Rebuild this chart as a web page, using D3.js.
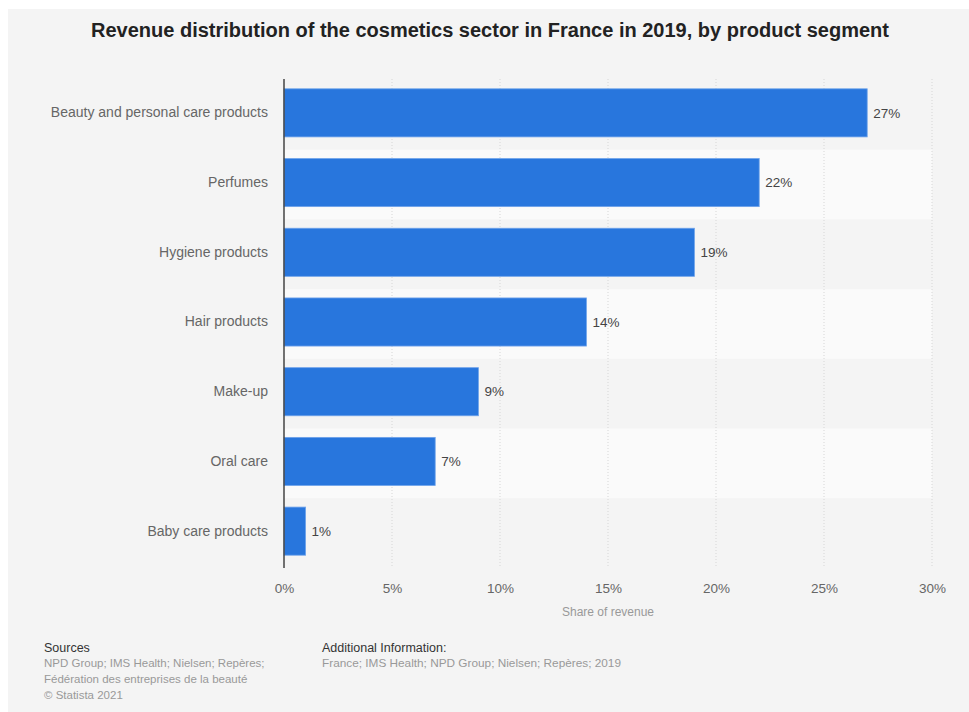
<!DOCTYPE html>
<html lang="en">
<head>
    <meta charset="UTF-8">
    <title>Revenue distribution of the cosmetics sector in France 2019</title>
    <style>
        body { margin: 0; background: #fff; }
        text { font-family: "Liberation Sans", Arial, sans-serif; }
    </style>
</head>
<body>
    <div id="chart"></div>
    <script src="https://d3js.org/d3.v7.min.js"></script>
    <script>
        const categories = ["Beauty and personal care products", "Perfumes", "Hygiene products",
            "Hair products", "Make-up", "Oral care", "Baby care products"]
        const shares = [27, 22, 19, 14, 9, 7, 1]
        const xTicks = [0, 5, 10, 15, 20, 25, 30]
        const sourceLines = ["NPD Group; IMS Health; Nielsen; Repères;", "Fédération des entreprises de la beauté", "© Statista 2021"]
        const infoLines = ["France; IMS Health; NPD Group; Nielsen; Repères; 2019"]

        const [width, height] = [969, 712]
        const svg = d3.select("#chart").append("svg")
            .attr("width", width)
            .attr("height", height)

        // panel background
        svg.append("rect")
            .attr("x", 8).attr("y", 9)
            .attr("width", width - 8).attr("height", height - 9)
            .attr("fill", "#f4f4f4")

        svg.append("text")
            .attr("x", 490).attr("y", 37)
            .attr("text-anchor", "middle")
            .attr("font-size", 20)
            .attr("font-weight", "bold")
            .attr("fill", "#222")
            .text("Revenue distribution of the cosmetics sector in France in 2019, by product segment")

        const x = d3.scaleLinear().domain([0, 30]).range([284, 932])
        const rows = d3.scaleBand().domain(categories).range([80, 568])
        const bars = d3.scaleBand().domain(categories).range([78, 566]).paddingInner(0.31).paddingOuter(0.155)

        // alternating row bands
        svg.append("g").selectAll("rect")
            .data(categories)
            .join("rect")
            .attr("x", x(0))
            .attr("y", d => rows(d))
            .attr("width", x(30) - x(0))
            .attr("height", rows.bandwidth())
            .attr("fill", (d, i) => i % 2 ? "#fafafa" : "#f4f4f4")

        // dotted gridlines
        svg.append("g").selectAll("line")
            .data(xTicks.slice(1))
            .join("line")
            .attr("x1", d => x(d)).attr("x2", d => x(d))
            .attr("y1", 79).attr("y2", 568)
            .attr("stroke", "#d6d6d6")
            .attr("stroke-dasharray", "1,2")

        svg.append("g").selectAll("rect")
            .data(shares)
            .join("rect")
            .attr("x", x(0))
            .attr("y", (d, i) => bars(categories[i]))
            .attr("width", d => x(d) - x(0))
            .attr("height", bars.bandwidth())
            .attr("fill", "#2876dd")
            .attr("stroke", "#6fa3ea")
            .attr("stroke-width", 0.8)

        svg.append("g").selectAll("text")
            .data(shares)
            .join("text")
            .attr("x", d => x(d) + 6)
            .attr("y", (d, i) => bars(categories[i]) + bars.bandwidth() / 2)
            .attr("dy", "0.35em")
            .attr("font-size", 13.5)
            .attr("fill", "#444")
            .text(d => d + "%")

        // category axis
        const yAxis = svg.append("g")
            .attr("transform", `translate(${x(0)},0)`)
            .call(d3.axisLeft(bars).tickSize(0).tickPadding(16))
        yAxis.select(".domain").remove()
        yAxis.selectAll("text")
            .attr("font-size", 14)
            .attr("fill", "#666")
            .style("font-family", "'Liberation Sans', Arial, sans-serif")

        svg.append("line")
            .attr("x1", x(0)).attr("x2", x(0))
            .attr("y1", 79).attr("y2", 568)
            .attr("stroke", "#444")
            .attr("stroke-width", 1.5)

        const xAxis = svg.append("g")
            .attr("transform", "translate(0,568)")
            .call(d3.axisBottom(x).tickValues(xTicks).tickFormat(d => d + "%").tickSize(0).tickPadding(15))
        xAxis.select(".domain").remove()
        xAxis.selectAll("text")
            .attr("font-size", 13.5)
            .attr("fill", "#666")
            .style("font-family", "'Liberation Sans', Arial, sans-serif")

        svg.append("text")
            .attr("x", x(15)).attr("y", 616)
            .attr("text-anchor", "middle")
            .attr("font-size", 12)
            .attr("fill", "#999")
            .text("Share of revenue")

        // footer
        svg.append("text")
            .attr("x", 44).attr("y", 652)
            .attr("font-size", 12.5).attr("fill", "#333")
            .text("Sources")
        svg.append("g").selectAll("text")
            .data(sourceLines)
            .join("text")
            .attr("x", 44)
            .attr("y", (d, i) => 667 + i * 16)
            .attr("font-size", 11.5).attr("fill", "#999")
            .text(d => d)

        svg.append("text")
            .attr("x", 322).attr("y", 652)
            .attr("font-size", 12.5).attr("fill", "#333")
            .text("Additional Information:")
        svg.append("g").selectAll("text")
            .data(infoLines)
            .join("text")
            .attr("x", 322)
            .attr("y", (d, i) => 667 + i * 16)
            .attr("font-size", 11.8).attr("fill", "#999")
            .text(d => d)
    </script>
</body>
</html>
